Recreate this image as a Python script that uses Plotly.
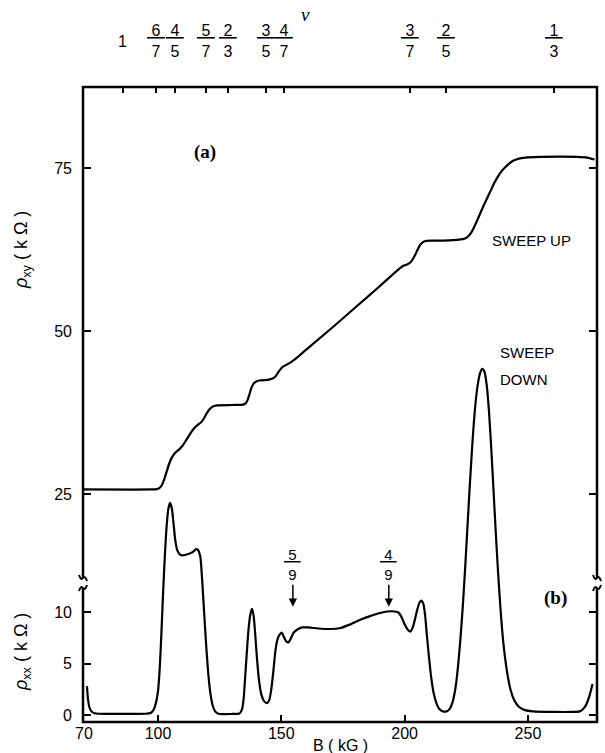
import plotly.graph_objects as go

# ---------------- data ----------------
# rho_xy, sweep up (kOhm) vs B (kG)
B_xy = [69.6, 98, 99.5, 100.5, 101.5, 102.5, 103.5, 104.5, 105.5, 106.5, 107.5, 108.5,
        109.5, 110.5, 111.5, 112.5, 113.5, 114.5, 115.5, 116.5, 117.5, 118.5, 119.5,
        120.5, 121.5, 122.5, 124, 130, 134.5, 135.5, 136.3, 137.1, 137.9, 138.7, 139.6,
        141, 145, 147, 148, 149, 150, 151, 152, 153, 154.2, 156, 160, 170, 180, 190,
        198, 199.5, 201, 202.3, 203.3, 204.3, 205.3, 206.3, 207.3, 208.5, 212, 218,
        222, 224.5, 226, 227.5, 229, 230.5, 232, 233.5, 235, 236.5, 238, 239.5, 241,
        242.5, 244, 246, 249, 255, 270, 274, 277]
R_xy = [25.7, 25.7, 25.75, 25.9, 26.3, 27.2, 28.4, 29.6, 30.5, 31.1, 31.5, 31.8,
        32.2, 32.7, 33.3, 33.9, 34.5, 35.0, 35.4, 35.7, 36.0, 36.5, 37.2,
        37.8, 38.2, 38.45, 38.6, 38.65, 38.7, 38.9, 39.4, 40.3, 41.3, 41.9, 42.2,
        42.4, 42.55, 42.8, 43.2, 43.8, 44.3, 44.6, 44.8, 45.0, 45.3, 45.8, 47.1, 50.3, 53.6, 56.9,
        59.6, 60.0, 60.2, 60.5, 61.0, 61.7, 62.5, 63.2, 63.6, 63.8, 63.85, 63.9,
        64.0, 64.2, 64.6, 65.4, 66.6, 67.9, 69.2, 70.4, 71.6, 72.8, 73.8, 74.6, 75.2,
        75.7, 76.1, 76.4, 76.6, 76.7, 76.7, 76.6, 76.3]

# rho_xx, sweep down (kOhm) vs B (kG)
B_xx = [71.2, 71.6, 72.2, 73.0, 74.0, 76.0, 85, 95, 97, 98.2, 99.2, 100, 100.7, 101.4,
        102.1, 102.8, 103.5, 104.2, 104.9, 105.6, 106.3, 107, 107.8, 108.8, 110, 112,
        114, 115.5, 116.3, 117.2, 117.8, 118.4, 119, 119.7, 120.4, 121.2, 122.2, 123.2,
        124.5, 130, 133, 134, 134.7, 135.3, 136, 136.7, 137.4, 138.1, 138.8, 139.5,
        140.2, 141, 141.9, 143, 144.2, 145.2, 146, 146.8, 147.6, 148.4, 149.3, 150.2,
        151, 152, 152.9, 153.8, 155, 156.5, 158.5, 161, 165, 170, 174, 178, 182, 186,
        190, 193, 196, 197.5, 198.8, 200, 201.2, 202.3, 203.3, 204.3, 205.2, 206, 206.8,
        207.6, 208.3, 209, 209.8, 210.7, 211.7, 212.8, 214, 215.5, 217, 218.3, 219.5,
        220.6, 221.6, 222.6, 223.6, 224.6, 225.6, 226.6, 227.6, 228.6, 229.6, 230.6,
        231.5, 232.4, 233.3, 234.2, 235.1, 236, 236.9, 237.8, 238.7, 239.6, 240.6,
        241.8, 243, 244.5, 246.3, 248.5, 252, 260, 268, 271, 272.5, 273.8, 275, 276.2]
R_xx = [2.8, 1.6, 0.75, 0.35, 0.2, 0.12, 0.1, 0.12, 0.2, 0.5, 1.2, 2.3, 4.5, 8,
        12, 15.5, 18.3, 20, 20.6, 20.1, 18.6, 17, 16, 15.6, 15.5, 15.6,
        15.8, 16.1, 16.0, 15.3, 13.5, 11.2, 8.8, 6.2, 4.0, 2.2, 0.9, 0.35,
        0.12, 0.1, 0.15, 0.5, 1.5, 3.5, 6, 8.3, 9.7, 10.3, 9.6, 7.6,
        5.3, 3.3, 2.0, 1.35, 1.15, 1.5, 2.6, 4.3, 6.2, 7.3, 7.8, 8.0,
        7.6, 7.15, 7.05, 7.4, 8.0, 8.3, 8.5, 8.5, 8.4, 8.35, 8.45, 8.8, 9.25, 9.6,
        9.9, 10.05, 10.05, 9.95, 9.5, 8.8, 8.3, 8.1, 8.5, 9.4, 10.3, 10.9, 11.1,
        10.8, 9.7, 7.8, 5.8, 3.8, 2.2, 1.2, 0.6, 0.35, 0.35, 0.6, 1.3,
        2.6, 4.6, 7.3, 10.6, 14.5, 18.8, 23, 26.8, 29.9, 32, 33.2,
        33.6, 33.3, 32, 29.5, 26, 22, 18, 14.2, 10.9, 8.1, 5.8,
        3.8, 2.4, 1.4, 0.8, 0.5, 0.35, 0.3, 0.3, 0.35, 0.6, 1.1, 1.9, 3.0]

# axis ticks
x_ticks = [70, 100, 150, 200, 250]
xy_ticks = [25, 50, 75]
xx_ticks = [0, 5, 10]

# filling factor (top axis): positions in B and labels
nu_B = [85.8, 99.2, 106.9, 119.5, 128.4, 143.8, 151.1, 202.3, 216.9, 260.5]
nu_num = ["1", "6", "4", "5", "2", "3", "4", "3", "2", "1"]
nu_den = ["", "7", "5", "7", "3", "5", "7", "7", "5", "3"]

# arrowed fractions on rho_xx panel
arrow_B = [154.7, 193.6]
arrow_num = ["5", "4"]
arrow_den = ["9", "9"]

# ---------------- geometry ----------------
W, H = 605, 753
ML, MR, MT, MB = 83, 8, 87, 31
PW, PH = W - ML - MR, H - MT - MB

def px_x(x):
    return (x - ML) / PW

def px_y(y):
    return (H - MB - y) / PH

FONT = "Liberation Sans, Arial, sans-serif"
SERIF = "Liberation Serif, Times New Roman, serif"

fig = go.Figure()
fig.add_trace(go.Scatter(x=B_xy, y=R_xy, mode="lines", yaxis="y2",
                         line=dict(color="black", width=2.2, shape="spline", smoothing=0.6),
                         showlegend=False, hoverinfo="skip"))
fig.add_trace(go.Scatter(x=B_xx, y=R_xx, mode="lines", yaxis="y",
                         line=dict(color="black", width=2.2, shape="spline", smoothing=0.6),
                         showlegend=False, hoverinfo="skip"))
# invisible trace on top axis so it renders
fig.add_trace(go.Scatter(x=nu_B, y=[1] * len(nu_B), xaxis="x2", yaxis="y", mode="markers",
                         marker=dict(opacity=0), showlegend=False, hoverinfo="skip"))

xr = [69.6, 278.0]
fig.update_layout(
    width=W, height=H,
    margin=dict(l=ML, r=MR, t=MT, b=MB, pad=0),
    paper_bgcolor="white", plot_bgcolor="white",
    font=dict(family=FONT, size=16, color="black"),
    xaxis=dict(range=xr, tickvals=x_ticks, ticks="inside", ticklen=7, tickwidth=1.5,
               tickcolor="black", showgrid=False, zeroline=False,
               showline=False, ticklabelstandoff=0, tickfont=dict(size=16, family=FONT)),
    xaxis2=dict(range=xr, overlaying="x", side="top", anchor="y", tickmode="array",
                tickvals=nu_B, showticklabels=False, ticks="inside", ticklen=6,
                tickwidth=1.5, tickcolor="black", showgrid=False, zeroline=False,
                showline=False),
    yaxis=dict(range=[-0.68, 60.97], tickvals=xx_ticks, ticks="inside", ticklen=8,
               tickwidth=1.5, tickcolor="black", showgrid=False, zeroline=False,
               showline=False, mirror="ticks",
               ticklabelstandoff=10, tickfont=dict(size=16, family=FONT)),
    yaxis2=dict(range=[-9.97, 87.42], tickvals=xy_ticks, ticks="inside", ticklen=8,
                tickwidth=1.5, tickcolor="black", showgrid=False, zeroline=False,
                overlaying="y", side="left", anchor="x", showline=False, mirror="ticks",
                ticklabelstandoff=10, tickfont=dict(size=16, family=FONT)),
)

shapes = []
# full frame
shapes.append(dict(type="rect", xref="paper", yref="paper", x0=0, x1=1, y0=0, y1=1,
                   line=dict(color="black", width=2.5), fillcolor="rgba(0,0,0,0)", layer="above"))
# axis break (white gap + squiggles) on left and right axis lines
gy0, gy1 = px_y(588), px_y(578)
for xe in (0.0, 1.0):
    shapes.append(dict(type="rect", xref="paper", yref="paper", x0=xe - 6 / PW, x1=xe + 6 / PW,
                       y0=gy0, y1=gy1, fillcolor="white", line=dict(width=0), layer="above"))
    for yy, sgn in ((gy0, 1), (gy1, -1)):
        a = xe - 4 / PW
        b = xe + 4 / PW
        m = xe
        d = 3 / PH * sgn
        path = f"M {a},{yy - d} Q {(a + m) / 2},{yy + d} {m},{yy} Q {(m + b) / 2},{yy - d} {b},{yy + d}"
        shapes.append(dict(type="path", xref="paper", yref="paper", path=path,
                           line=dict(color="black", width=2), layer="above"))
fig.update_layout(shapes=shapes)

ann = []

def note(xp, yp, text, size=16, family=FONT, xanchor="center", **kw):
    ann.append(dict(x=xp, y=yp, xref="paper", yref="paper", text=text, showarrow=False,
                    xanchor=xanchor, yanchor="middle", font=dict(size=size, family=family), **kw))

# top axis nu labels
for b, n, d in zip(nu_B, nu_num, nu_den):
    txt = n if d == "" else f"<u>\u00a0{n}\u00a0</u><br>{d}"
    ann.append(dict(x=b, y=px_y(41), xref="x", yref="paper", text=txt, showarrow=False,
                    xanchor="center", yanchor="middle", font=dict(size=16, family=FONT)))
note(px_x(305), px_y(15), "<i>ν</i>", size=19, family=SERIF)
# arrows with fractions
for b, n, d in zip(arrow_B, arrow_num, arrow_den):
    ann.append(dict(x=b, y=10.5, xref="x", yref="y", text=f"<u>\u00a0{n}\u00a0</u><br>{d}",
                    showarrow=True, ax=0, ay=-42, arrowhead=2, arrowsize=1.1, arrowwidth=1.5,
                    arrowcolor="black", font=dict(size=15, family=FONT)))
# panel labels
note(px_x(205), px_y(152), "<b>(a)</b>", size=19, family=SERIF)
note(px_x(555), px_y(598), "<b>(b)</b>", size=19, family=SERIF)
# sweep labels
note(px_x(490), px_y(240), "SWEEP UP", size=15, xanchor="left")
note(px_x(498), px_y(352), "SWEEP", size=15, xanchor="left")
note(px_x(498), px_y(379), "DOWN", size=15, xanchor="left")
# axis titles
note(px_x(22), px_y(250), "<i>ρ</i><sub>xy</sub> ( k Ω )", size=18, textangle=-90)
note(px_x(22), px_y(652), "<i>ρ</i><sub>xx</sub> ( k Ω )", size=18, textangle=-90)
note(px_x(340), px_y(745), "B ( kG )", size=16)
fig.update_layout(annotations=ann)

fig.write_html("out.html")
